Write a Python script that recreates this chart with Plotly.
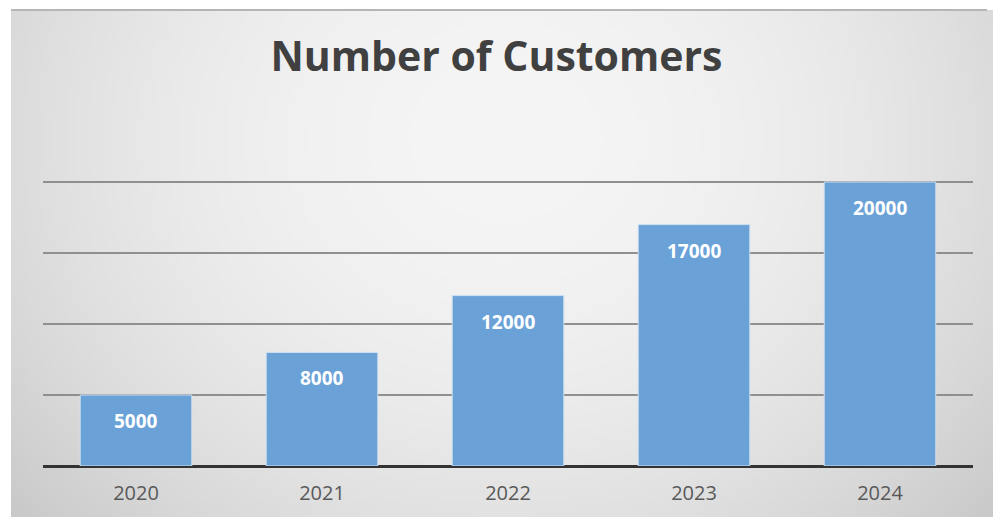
import base64, struct, zlib
import numpy as np
import plotly.graph_objects as go

years = ["2020", "2021", "2022", "2023", "2024"]
customers = [5000, 8000, 12000, 17000, 20000]
title_text = "Number of Customers"
positions = list(range(len(years)))

# radial gradient background image (decorative)
W, H = 200, 104
gy, gx = np.mgrid[0:H, 0:W]
cx, cy = W * 0.5, H * 0.25
dist = np.sqrt(((gx - cx) / (W * 0.62)) ** 2 + ((gy - cy) / (H * 1.05)) ** 2)
dist = np.clip(dist, 0, 1.2)
val = np.clip(245 - 38 * dist ** 2.0, 0, 255).astype(np.uint8)
raw = b"".join(b"\x00" + bytes(np.repeat(row, 3).tolist()) for row in val)
def chunk(t, data):
    c = struct.pack(">I", len(data)) + t + data
    return c + struct.pack(">I", zlib.crc32(t + data) & 0xffffffff)
png = b"\x89PNG\r\n\x1a\n" + chunk(b"IHDR", struct.pack(">IIBBBBB", W, H, 8, 2, 0, 0, 0)) \
    + chunk(b"IDAT", zlib.compress(raw)) + chunk(b"IEND", b"")
img_src = "data:image/png;base64," + base64.b64encode(png).decode()

fig = go.Figure()
fig.add_trace(go.Bar(
    x=positions, y=customers,
    marker=dict(color="#6aa2d8", line=dict(color="#cfe0f0", width=1)),
    width=0.6, customdata=years,
    hovertemplate="%{customdata}: %{y}<extra></extra>",
))
for p, v in zip(positions, customers):
    fig.add_annotation(x=p, y=v, xref="x", yref="y", text=f"<b>{v}</b>", showarrow=False,
                       yanchor="top", yshift=-11,
                       font=dict(family="Open Sans", size=19, color="white"))

fig.update_layout(
    width=993, height=517,
    margin=dict(l=43, r=20, t=111, b=51),
    paper_bgcolor="white",
    plot_bgcolor="rgba(0,0,0,0)",
    title=dict(text=f"<b>{title_text}</b>", x=0.5, xanchor="center", y=0.89, yanchor="middle",
               font=dict(family="Open Sans", size=41, color="#404040")),
    xaxis=dict(range=[-0.5, 4.5], tickmode="array", tickvals=positions, ticktext=years,
               showgrid=False, showline=False, ticks="", zeroline=False,
               ticklabelstandoff=13,
               tickfont=dict(family="Open Sans", size=20, color="#595959")),
    yaxis=dict(range=[0, 25000], dtick=5000, showticklabels=False,
               gridcolor="#8f8f8f", gridwidth=1.5,
               zeroline=True, zerolinecolor="#333333", zerolinewidth=3),
    showlegend=False,
    images=[dict(source=img_src, xref="paper", yref="paper",
                 x=-32/930, y=1 + 101/355, sizex=982/930, sizey=507/355,
                 xanchor="left", yanchor="top", sizing="stretch", layer="below")],
    shapes=[dict(type="line", xref="paper", yref="paper",
                 x0=-32/930, x1=1 + 14/930, y0=1 + 101/355, y1=1 + 101/355,
                 line=dict(color="#b5b5b5", width=2))],
)
fig.write_html("out.html")
